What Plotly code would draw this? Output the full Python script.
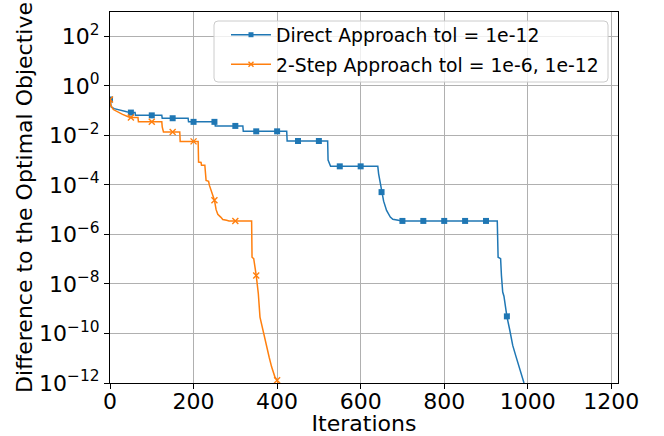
import numpy as np
import plotly.graph_objects as go

# Convergence histories: iteration number and gap to the optimal objective
direct_iter = [0, 3, 10, 25, 40, 50, 60, 61, 100, 124, 125, 150, 187, 188, 200, 250, 251,
               252, 300, 318, 319, 350, 400, 423, 424, 450, 500, 521, 522, 525, 528, 550,
               600, 641, 643, 646, 650, 655, 662, 671, 677, 690, 698, 700, 750, 800, 850,
               900, 927, 929, 935, 937, 940, 943, 950, 957, 964, 971, 978, 985, 991, 1000]
direct_val = [0.28, 0.14, 0.12, 0.10, 0.089, 0.083, 0.083, 0.064, 0.064, 0.064, 0.049, 0.049,
              0.049, 0.035, 0.035, 0.035, 0.035, 0.024, 0.024, 0.024, 0.0145, 0.0145, 0.0145,
              0.0145, 0.0059, 0.0059, 0.0059, 0.0059, 1.0e-3, 8.0e-4, 5.6e-4, 5.6e-4, 5.6e-4,
              5.6e-4, 2.8e-4, 1.5e-4, 5.1e-5, 2.2e-5, 9.3e-6, 5.0e-6, 4.1e-6, 3.6e-6, 3.5e-6,
              3.5e-6, 3.5e-6, 3.5e-6, 3.5e-6, 3.5e-6, 3.5e-6, 1.2e-7, 1.05e-7, 2.2e-8, 4.7e-9,
              3.2e-9, 4.9e-10, 1.35e-10, 3.3e-11, 1.3e-11, 5.1e-12, 2.0e-12, 1.0e-12, 5.0e-13]

twostep_iter = [0, 2, 8, 20, 30, 45, 50, 67, 68, 100, 124, 125, 128, 150, 167, 168, 200, 211,
                212, 218, 219, 227, 230, 236, 238, 243, 250, 254, 258, 265, 270, 279, 285,
                300, 339, 340, 344, 350, 355, 359, 367, 373, 381, 387, 395, 400, 403]
twostep_val = [0.28, 0.16, 0.11, 0.085, 0.07, 0.055, 0.052, 0.052, 0.035, 0.035, 0.035, 0.022,
               0.0136, 0.0136, 0.0136, 0.0057, 0.0057, 0.0057, 8.3e-4, 8.0e-4, 6.2e-4, 6.2e-4,
               1.5e-4, 1.4e-4, 9.5e-5, 5.1e-5, 2.4e-5, 1.0e-5, 6.5e-6, 5.0e-6, 4.0e-6, 3.7e-6,
               3.5e-6, 3.5e-6, 3.5e-6, 1.2e-7, 1.05e-7, 2.2e-8, 4.1e-9, 4.6e-10, 1.15e-10,
               3.3e-11, 1.1e-11, 4.4e-12, 1.7e-12, 1.3e-12, 8.0e-13]

x_ticks = [0, 200, 400, 600, 800, 1000, 1200]
y_exponents = [2, 0, -2, -4, -6, -8, -10, -12]

BLUE = "#1f77b4"
ORANGE = "#ff7f0e"
FONT = "DejaVu Sans"
MARK_EVERY = 50

W, H = 664, 436
M_L, M_R, M_T, M_B = 110, 46, 12, 53
PLOT_W = W - M_L - M_R
PLOT_H = H - M_T - M_B


def px_to_paper(px, py):
    return (px - M_L) / PLOT_W, 1 - (py - M_T) / PLOT_H


def every_nth(xs, ys, n):
    xs = np.asarray(xs)
    ys = np.asarray(ys)
    keep = xs % n == 0
    return xs[keep], ys[keep]


fig = go.Figure()

series = [
    ("Direct Approach tol = 1e-12", direct_iter, direct_val, BLUE, "square", 6, 0),
    ("2-Step Approach tol = 1e-6, 1e-12", twostep_iter, twostep_val, ORANGE, "x-thin", 6, 1.4),
]

for i, (name, xs, ys, color, symbol, msize, mline) in enumerate(series):
    fig.add_trace(go.Scatter(x=xs, y=ys, mode="lines", showlegend=False,
                             line=dict(color=color, width=1.5), hoverinfo="skip"))
    mx, my = every_nth(xs, ys, MARK_EVERY)
    fig.add_trace(go.Scatter(x=mx, y=my, mode="markers", showlegend=False,
                             marker=dict(symbol=symbol, size=msize, color=color,
                                         line=dict(color=color, width=mline))))
    # legend entry combining line and marker
    fig.add_trace(go.Scatter(x=[None], y=[None], mode="lines+markers", name=name,
                             legendgroup="g%d" % i,
                             line=dict(color=color, width=1.5),
                             marker=dict(symbol=symbol, size=msize - 1, color=color,
                                         line=dict(color=color, width=mline))))

axis_common = dict(
    showline=True, linecolor="black", linewidth=1, mirror=True,
    ticks="outside", ticklen=5, tickwidth=1, tickcolor="black",
    showgrid=True, gridcolor="#b0b0b0", gridwidth=0.8,
    zeroline=False, automargin=False,
    tickfont=dict(family=FONT, size=22, color="black"),
)

fig.update_xaxes(
    range=[0, 1216], tickvals=x_ticks, ticktext=[str(v) for v in x_ticks],
    ticklabelstandoff=-6,
    title=dict(text="Iterations", font=dict(family=FONT, size=22, color="black"), standoff=10),
    **axis_common,
)
fig.update_yaxes(
    type="log", range=[-12, 2.98],
    tickvals=[10.0 ** e for e in y_exponents],
    ticktext=["10<sup>%s</sup>" % (str(e) if e >= 0 else "\u2212" + str(-e)) for e in y_exponents],
    title=dict(text="Difference to the Optimal Objective",
               font=dict(family=FONT, size=22, color="black"), standoff=0),
    **axis_common,
)

# legend frame with rounded corners
bx0, by0 = px_to_paper(214, 82)
bx1, by1 = px_to_paper(608, 21)
rx, ry = 4 / PLOT_W, 4 / PLOT_H
frame = (f"M {bx0 + rx},{by1} L {bx1 - rx},{by1} Q {bx1},{by1} {bx1},{by1 - ry} "
         f"L {bx1},{by0 + ry} Q {bx1},{by0} {bx1 - rx},{by0} "
         f"L {bx0 + rx},{by0} Q {bx0},{by0} {bx0},{by0 + ry} "
         f"L {bx0},{by1 - ry} Q {bx0},{by1} {bx0 + rx},{by1} Z")
fig.add_shape(type="path", path=frame, xref="paper", yref="paper", layer="above",
              line=dict(color="#cccccc", width=1), fillcolor="rgba(255,255,255,0.8)")

lx, ly = px_to_paper(226, 16)
fig.update_layout(
    width=W, height=H,
    margin=dict(l=M_L, r=M_R, t=M_T, b=M_B),
    paper_bgcolor="white", plot_bgcolor="white",
    font=dict(family=FONT, color="black"),
    legend=dict(x=lx, y=ly, xanchor="left", yanchor="top",
                bgcolor="rgba(0,0,0,0)", borderwidth=0,
                traceorder="grouped", tracegroupgap=2,
                font=dict(family=FONT, size=18.8, color="black"), itemwidth=40),
)

fig.write_html("out.html")
